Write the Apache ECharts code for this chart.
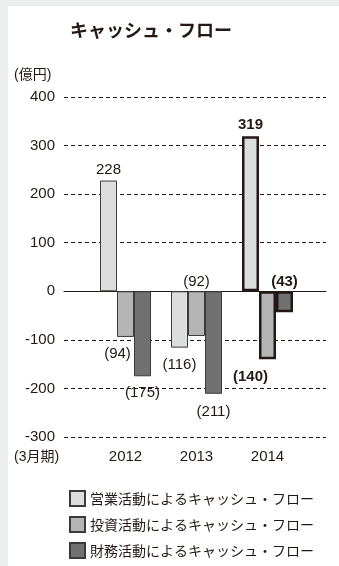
<!DOCTYPE html>
<html>
<head>
<meta charset="utf-8">
<script src="https://cdn.jsdelivr.net/npm/echarts@6/dist/echarts.min.js"></script>
<style>
  html, body { margin: 0; padding: 0; background: #edeeee; }
  #panel { position: absolute; left: 8px; top: 6px; right: 0; bottom: 0; background: #fff; }
  #chart { position: absolute; left: 0; top: 0; width: 339px; height: 566px; }
</style>
</head>
<body>
<div id="panel"></div>
<div id="chart"></div>
<script>
const years = ['2012', '2013', '2014'];
const seriesNames = ['営業活動によるキャッシュ・フロー', '投資活動によるキャッシュ・フロー', '財務活動によるキャッシュ・フロー'];
const operating = [228, -116, 319];
const investing = [-94, -92, -140];
const financing = [-175, -211, -43];
const yTicks = [-300, -200, -100, 0, 100, 200, 300, 400];

const FONT = '"Liberation Sans", "Noto Sans CJK JP", sans-serif';
const INK = '#231815';
const colors = ['#dcdddd', '#b5b5b6', '#727171'];

// label placement tweaks per bar (series index -> per year)
const labelTweaks = [
  [{ pos: 'top', off: [0, -3] }, { pos: 'bottom', off: [0, 10] }, { pos: 'top', off: [0, -4] }],
  [{ pos: 'bottom', off: [-8, 9] }, { pos: 'top', off: [0, -2] }, { pos: 'bottom', off: [-17, 10] }],
  [{ pos: 'bottom', off: [0, 9] }, { pos: 'bottom', off: [0, 11] }, { pos: 'top', off: [0, -2] }]
];

function fmt(v) {
  return v < 0 ? '(' + Math.abs(v) + ')' : String(v);
}

function makeData(values, si) {
  return values.map((v, i) => {
    const t = labelTweaks[si][i];
    const hi = years[i] === '2014';
    const item = {
      value: v,
      label: { show: true, position: t.pos, offset: t.off, distance: 0, fontWeight: hi ? 'bold' : 'normal' }
    };
    if (hi) item.itemStyle = { borderColor: INK, borderWidth: 2.5 };
    return item;
  });
}

const chart = echarts.init(document.getElementById('chart'), null, { renderer: 'canvas' });

const yBase = { min: -300, max: 400, interval: 100 };

const option = {
  animation: false,
  textStyle: { fontFamily: FONT },
  graphic: [
    { type: 'text', x: 151, y: 30, style: { text: 'キャッシュ・フロー', font: 'bold 18px "Noto Sans CJK JP", sans-serif', fill: INK, align: 'center', verticalAlign: 'middle' } },
    { type: 'text', x: 14, y: 75, style: { text: '(億円)', font: '14px ' + FONT, fill: INK, align: 'left', verticalAlign: 'middle' } },
    { type: 'text', x: 14, y: 457, style: { text: '(3月期)', font: '14px ' + FONT, fill: INK, align: 'left', verticalAlign: 'middle' } }
  ],
  grid: [
    { left: 64, right: 13, top: 97, bottom: 129 },
    { left: 90, width: 213, top: 97, bottom: 129 }
  ],
  xAxis: [
    {
      gridIndex: 0, type: 'category', data: [''],
      axisLine: { show: true, onZero: true, lineStyle: { color: INK, width: 1 } },
      axisTick: { show: false }, axisLabel: { show: false }, splitLine: { show: false }
    },
    {
      gridIndex: 1, type: 'category', data: years,
      axisLine: { show: false, onZero: false }, axisTick: { show: false },
      axisLabel: { color: INK, fontSize: 15, margin: 12, fontFamily: FONT }
    }
  ],
  yAxis: [
    Object.assign({
      gridIndex: 0, type: 'value',
      axisLine: { show: false }, axisTick: { show: false },
      axisLabel: { color: INK, fontSize: 15, margin: 9, fontFamily: FONT,
        formatter: v => (yTicks.indexOf(v) >= 0 ? String(v) : '') },
      splitLine: { show: true, lineStyle: { color: INK, width: 1, type: [4, 3] } }
    }, yBase),
    Object.assign({
      gridIndex: 1, type: 'value', show: false, splitLine: { show: false }
    }, yBase)
  ],
  legend: {
    orient: 'vertical', left: 69, top: 490, padding: 0,
    itemWidth: 15, itemHeight: 15, itemGap: 9, icon: 'rect',
    textStyle: { color: INK, fontSize: 14, fontFamily: '"Noto Sans CJK JP", sans-serif' },
    data: seriesNames
  },
  series: [operating, investing, financing].map((vals, si) => ({
    name: seriesNames[si],
    type: 'bar',
    xAxisIndex: 1, yAxisIndex: 1,
    barWidth: 17, barGap: '0%',
    itemStyle: { color: colors[si], borderColor: '#3e3a39', borderWidth: 1 },
    label: { color: INK, fontSize: 15, fontFamily: FONT, formatter: p => fmt(p.value) },
    data: makeData(vals, si)
  }))
};

chart.setOption(option);
</script>
</body>
</html>
